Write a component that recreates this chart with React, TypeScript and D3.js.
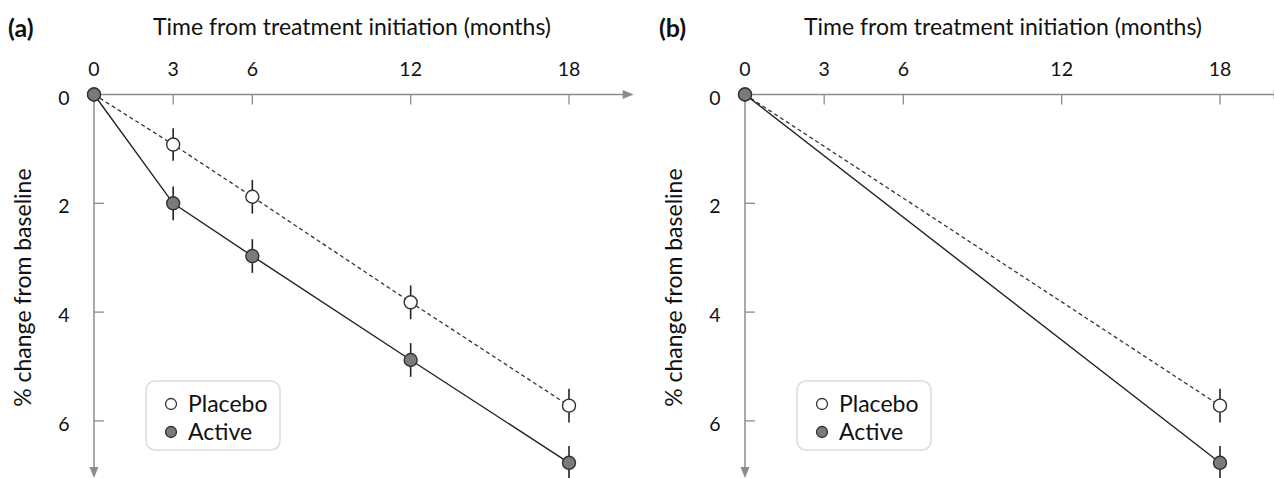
import React from 'react'
import * as d3 from 'd3'

// months on x, % change (downward) on y
const monthTicks = [0, 3, 6, 12, 18]
const pctTicks = [0, 2, 4, 6]
const placeboA = [
  { month: 0, value: 0, err: 0 },
  { month: 3, value: 0.92, err: 0.3 },
  { month: 6, value: 1.88, err: 0.31 },
  { month: 12, value: 3.82, err: 0.31 },
  { month: 18, value: 5.72, err: 0.31 },
]
const activeA = [
  { month: 0, value: 0, err: 0 },
  { month: 3, value: 2.0, err: 0.31 },
  { month: 6, value: 2.97, err: 0.31 },
  { month: 12, value: 4.88, err: 0.31 },
  { month: 18, value: 6.77, err: 0.31 },
]
const placeboB = [
  { month: 0, value: 0, err: 0 },
  { month: 18, value: 5.72, err: 0.31 },
]
const activeB = [
  { month: 0, value: 0, err: 0 },
  { month: 18, value: 6.77, err: 0.31 },
]
const panels = [
  { label: '(a)', placebo: placeboA, active: activeA },
  { label: '(b)', placebo: placeboB, active: activeB },
]

const FONT = 'Lato, "Open Sans", sans-serif'
const AXIS = '#8c8c8c'

function Panel({ dx, label, placebo, active }) {
  let x = d3.scaleLinear().domain([0, 18]).range([94, 569])
  let y = d3.scaleLinear().domain([0, 2]).range([94.5, 203.3])
  let line = d3.line().x((d) => x(d.month)).y((d) => y(d.value))
  let xEnd = x(20.45)
  let yEnd = y(7.05)

  const points = (data, fill, key) =>
    data.map((d, i) => (
      <g key={key + i}>
        {d.err > 0 && (
          <line x1={x(d.month)} x2={x(d.month)} y1={y(d.value - d.err)} y2={y(d.value + d.err)}
            stroke="#222" strokeWidth={1.6} />
        )}
        <circle cx={x(d.month)} cy={y(d.value)} r={6.5} fill={fill} stroke="#333" strokeWidth={1.4} />
      </g>
    ))

  return (
    <g transform={'translate(' + dx + ',0)'}>
      <text x={8} y={37} fontFamily={FONT} fontWeight="bold" fontSize={25} fill="#111">{label}</text>
      <text x={352} y={35} textAnchor="middle" fontFamily={FONT} fontSize={23} fill="#111">
        Time from treatment initiation (months)
      </text>
      <text transform={'translate(31,' + y(3.55) + ') rotate(-90)'} textAnchor="middle"
        fontFamily={FONT} fontSize={23} fill="#111">% change from baseline</text>

      {/* x axis */}
      <line x1={x(0)} x2={xEnd - 8} y1={y(0)} y2={y(0)} stroke={AXIS} strokeWidth={1.5} />
      <path d={`M${xEnd},${y(0)} L${xEnd - 11},${y(0) - 4.5} L${xEnd - 11},${y(0) + 4.5} Z`} fill={AXIS} />
      {monthTicks.map((m) => (
        <g key={'xt' + m}>
          {m > 0 && <line x1={x(m)} x2={x(m)} y1={y(0)} y2={y(0) + 10} stroke={AXIS} strokeWidth={1.3} />}
          <text x={x(m)} y={76} textAnchor="middle" fontFamily={FONT} fontSize={19.5} fill="#111">{m}</text>
        </g>
      ))}

      {/* y axis */}
      <line x1={x(0)} x2={x(0)} y1={y(0)} y2={yEnd - 8} stroke={AXIS} strokeWidth={1.5} />
      <path d={`M${x(0)},${yEnd} L${x(0) - 4.5},${yEnd - 11} L${x(0) + 4.5},${yEnd - 11} Z`} fill={AXIS} />
      {pctTicks.map((v) => (
        <g key={'yt' + v}>
          {v > 0 && <line x1={x(0)} x2={x(0) + 10} y1={y(v)} y2={y(v)} stroke={AXIS} strokeWidth={1.3} />}
          <text x={64} y={y(v) + 10} textAnchor="middle" fontFamily={FONT} fontSize={19.5} fill="#111">{v}</text>
        </g>
      ))}

      {/* series */}
      <path d={line(placebo)} fill="none" stroke="#333" strokeWidth={1.3} strokeDasharray="4,3" />
      <path d={line(active)} fill="none" stroke="#222" strokeWidth={1.4} />
      {points(placebo, '#fff', 'p')}
      {points(active, '#7a7a7a', 'a')}

      {/* legend */}
      <rect x={146} y={381} width={134} height={69} rx={9} fill="#fff" stroke="#dcdcdc" strokeWidth={1.5} />
      <circle cx={171} cy={404} r={5.5} fill="#fff" stroke="#333" strokeWidth={1.3} />
      <text x={188} y={412} fontFamily={FONT} fontSize={23} fill="#111">Placebo</text>
      <circle cx={171} cy={432} r={5.5} fill="#7a7a7a" stroke="#333" strokeWidth={1.3} />
      <text x={188} y={440} fontFamily={FONT} fontSize={23} fill="#111">Active</text>
    </g>
  )
}

export default function App() {
  return (
    <svg width={1274} height={478} style={{ position: 'absolute', left: 0, top: 0, background: '#fff' }}>
      {panels.map((p, i) => (
        <Panel key={p.label} dx={i * 651} label={p.label} placebo={p.placebo} active={p.active} />
      ))}
    </svg>
  )
}
